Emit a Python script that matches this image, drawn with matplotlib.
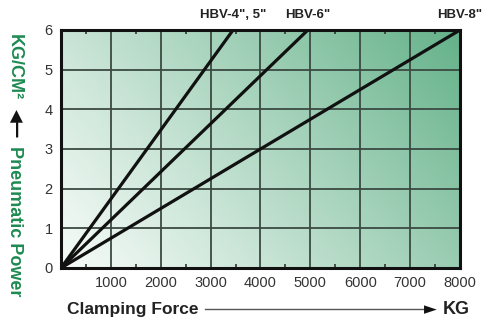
import numpy as np
import matplotlib
matplotlib.use("Agg")
import matplotlib.pyplot as plt
from matplotlib import font_manager

# Data
series_names = ['HBV-4", 5"', 'HBV-6"', 'HBV-8"']
force_hbv45 = [0, 3450]
force_hbv6 = [0, 4950]
force_hbv8 = [0, 8000]
pressure = [0, 6]
x_ticks = [1000, 2000, 3000, 4000, 5000, 6000, 7000, 8000]
y_ticks = [0, 1, 2, 3, 4, 5, 6]

names = {f.name for f in font_manager.fontManager.ttflist}
narrow = "Liberation Sans Narrow" if "Liberation Sans Narrow" in names else "Liberation Sans"

fig = plt.figure(figsize=(4.88, 3.25), dpi=100)
ax = fig.add_axes([0.125, 0.1754, 0.8176, 0.7323])
ax.set_xlim(0, 8000)
ax.set_ylim(0, 6)

# gradient background
nx, ny = 300, 200
xn = np.linspace(0, 1, nx)[None, :]
yn = np.linspace(0, 1, ny)[:, None]
s = np.clip(0.66 * xn + 0.34 * yn, 0, 1)
t = 0.02 + 0.96 * s ** 1.1
c0 = np.array([0.975, 0.99, 0.98])
c1 = np.array([0.38, 0.69, 0.53])
img = c0[None, None, :] * (1 - t[..., None]) + c1[None, None, :] * t[..., None]
ax.imshow(img, extent=[0, 8000, 0, 6], origin="lower", aspect="auto", zorder=0)

# grid
for xv in x_ticks[:-1]:
    ax.axvline(xv, color="#3b4a42", lw=1.3, zorder=1)
for yv in y_ticks[1:-1]:
    ax.axhline(yv, color="#3b4a42", lw=1.3, zorder=1)

for fx in (force_hbv45, force_hbv6, force_hbv8):
    ax.plot(fx, pressure, color="#111111", lw=2.3, zorder=3, solid_capstyle="butt")

for sp in ax.spines.values():
    sp.set_linewidth(2.2)
    sp.set_color("#111111")
    sp.set_zorder(5)

ax.set_xticks(x_ticks)
ax.set_yticks(y_ticks)
ax.set_xticks(np.arange(500, 8000, 1000), minor=True)
ax.tick_params(which="major", length=0, pad=6, labelsize=10.5, labelcolor="#333333")
ax.tick_params(which="minor", direction="in", length=3, width=1.2, color="#333333", top=True, bottom=True)
for lab in ax.get_xticklabels() + ax.get_yticklabels():
    lab.set_fontfamily(narrow)

# series labels at top
for name, fx in zip(series_names, (force_hbv45, force_hbv6, force_hbv8)):
    ax.text(fx[-1], 6.22, name, ha="center", va="bottom", fontsize=9.5,
            family=narrow, fontweight="bold", color="#222222")

# y label (green text with black arrow)
green = "#1f8a52"
fig.text(0.03, 0.795, "KG/CM²", rotation=270, ha="center", va="center",
         fontsize=13, fontweight="bold", color=green, family="Liberation Sans")
fig.text(0.03, 0.62, "◀—", rotation=270, ha="center", va="center",
         fontsize=12, fontweight="bold", color="#111111", family="DejaVu Sans")
fig.text(0.03, 0.318, "Pneumatic Power", rotation=270, ha="center", va="center",
         fontsize=13, fontweight="bold", color=green, family="Liberation Sans")

# x label with arrow
fig.text(0.137, 0.048, "Clamping Force", ha="left", va="center", fontsize=12.5,
         fontweight="bold", color="#222222", family="Liberation Sans")
fig.add_artist(matplotlib.lines.Line2D([0.42, 0.872], [0.05, 0.05], transform=fig.transFigure,
                                       color="#555555", lw=1.0))
fig.text(0.868, 0.05, "►", ha="left", va="center", fontsize=12,
         color="#111111", family="DejaVu Sans")
fig.text(0.908, 0.048, "KG", ha="left", va="center", fontsize=13, fontweight="bold",
         color="#222222", family="Liberation Sans")

fig.savefig("out.png", dpi=100)
